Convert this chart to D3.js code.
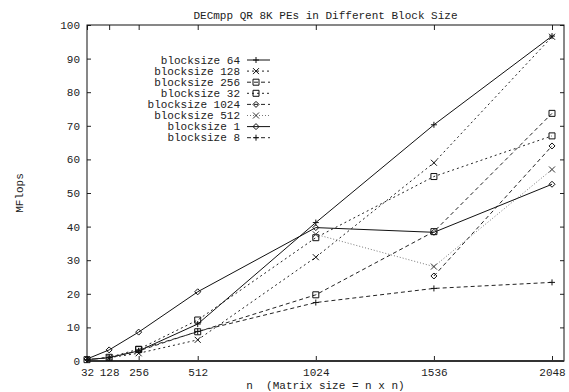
<!DOCTYPE html>
<html><head><meta charset="utf-8">
<script src="https://cdn.jsdelivr.net/npm/d3@7"></script>
<style>
body{margin:0;background:#fff}
svg{display:block}
text{font-family:"Liberation Mono","DejaVu Sans Mono",monospace;font-size:11px;fill:#222}
</style>
</head><body>
<svg id="chart" width="569" height="392"></svg>
<script>
// Matrix sizes n (x positions) and axis ticks
const sizesN = [32, 128, 256, 512, 1024, 1536, 2048];
const xTicks = [32, 128, 256, 512, 1024, 1536, 2048];
const yTicks = d3.range(0, 101, 10);

// MFlops per block size, aligned with sizesN (null = not measured)
const bs64   = [0.4, 1.0, 3.0, 11.0, 41.2, 70.3, 96.7];
const bs128  = [null, 1.0, 2.3, 6.3, 30.9, 59.0, 96.5];
const bs256  = [null, null, 3.4, 8.7, 19.7, 38.5, 73.7];
const bs32   = [0.4, 1.1, 3.5, 12.2, 36.7, 54.9, 67.0];
const bs1024 = [null, null, null, null, null, 25.3, 64.0];
const bs512  = [null, null, null, null, 37.7, 28.1, 57.0];
const bs1    = [0.6, 3.3, 8.6, 20.6, 39.7, 38.3, 52.6];
const bs8    = [0.4, 1.0, 3.0, 8.8, 17.4, 21.6, 23.4];

const seriesNames = ["blocksize 64", "blocksize 128", "blocksize 256", "blocksize 32",
                     "blocksize 1024", "blocksize 512", "blocksize 1", "blocksize 8"];
const seriesValues = [bs64, bs128, bs256, bs32, bs1024, bs512, bs1, bs8];

// line / marker style per series (legend order)
const styles = [
  {dash: null,  stroke: "#111", mark: "plus"},
  {dash: "2,3", stroke: "#222", mark: "cross"},
  {dash: "4,3", stroke: "#222", mark: "box"},
  {dash: "2,3", stroke: "#222", mark: "box"},
  {dash: "4,3", stroke: "#222", mark: "diamond"},
  {dash: "1,2", stroke: "#777", mark: "cross"},
  {dash: null,  stroke: "#111", mark: "diamond"},
  {dash: "4,3", stroke: "#222", mark: "plus"}
];

const W = 569, H = 392;
const plot = {left: 87, right: 564, top: 25, bottom: 361};

const svg = d3.select("#chart");
const x = d3.scaleLinear().domain([32, 2100]).range([plot.left, plot.right]);
const y = d3.scaleLinear().domain([0, 100]).range([plot.bottom, plot.top]);

// axes: ticks point inward, mirrored on the top and right
svg.append("g").attr("transform", `translate(0,${plot.bottom})`)
  .call(d3.axisBottom(x).tickValues(xTicks).tickSize(-5).tickPadding(7).tickFormat(d3.format("d")))
  .call(g => g.select(".domain").remove())
  .call(g => g.selectAll("line").attr("stroke", "#222"));
svg.append("g").attr("transform", `translate(0,${plot.top})`)
  .call(d3.axisTop(x).tickValues(xTicks).tickSize(-5).tickFormat(""))
  .call(g => g.select(".domain").remove())
  .call(g => g.selectAll("line").attr("stroke", "#222"));
svg.append("g").attr("transform", `translate(${plot.left},0)`)
  .call(d3.axisLeft(y).tickValues(yTicks).tickSize(-4).tickPadding(7))
  .call(g => g.select(".domain").remove())
  .call(g => g.selectAll("line").attr("stroke", "#222"));
svg.append("g").attr("transform", `translate(${plot.right},0)`)
  .call(d3.axisRight(y).tickValues(yTicks).tickSize(-4).tickFormat(""))
  .call(g => g.select(".domain").remove())
  .call(g => g.selectAll("line").attr("stroke", "#222"));

svg.selectAll(".tick text").style("font-family", '"Liberation Mono",monospace').style("font-size", "11px").attr("fill", "#222");

// frame
svg.append("rect")
  .attr("x", plot.left).attr("y", plot.top)
  .attr("width", plot.right - plot.left).attr("height", plot.bottom - plot.top)
  .attr("fill", "none").attr("stroke", "#111").attr("stroke-width", 1);
svg.append("line")
  .attr("x1", plot.left).attr("x2", plot.right)
  .attr("y1", plot.bottom).attr("y2", plot.bottom)
  .attr("stroke", "#333").attr("stroke-width", 2);

// titles
svg.append("text").attr("x", (plot.left + plot.right) / 2).attr("y", 19)
  .attr("text-anchor", "middle").text("DECmpp QR 8K PEs in Different Block Size");
svg.append("text").attr("x", (plot.left + plot.right) / 2).attr("y", 389)
  .attr("text-anchor", "middle").attr("xml:space", "preserve").style("white-space", "pre")
  .text("n  (Matrix size = n x n)");
svg.append("text").attr("transform", `translate(23,${(plot.top + plot.bottom) / 2}) rotate(-90)`)
  .attr("text-anchor", "middle").text("MFlops");

// point markers
function marker(g, type, cx, cy, color) {
  const r = 3;
  const p = g.append("path").attr("fill", "none").attr("stroke", color).attr("stroke-width", 1);
  if (type === "plus") p.attr("d", `M${cx - r},${cy}H${cx + r}M${cx},${cy - r}V${cy + r}`);
  else if (type === "cross") p.attr("d", `M${cx - r},${cy - r}L${cx + r},${cy + r}M${cx - r},${cy + r}L${cx + r},${cy - r}`);
  else if (type === "box") p.attr("d", `M${cx - r},${cy - r}H${cx + r}V${cy + r}H${cx - r}Z`);
  else if (type === "diamond") p.attr("d", `M${cx},${cy - r}L${cx + r},${cy}L${cx},${cy + r}L${cx - r},${cy}Z`);
}

const line = d3.line()
  .defined(d => d.v !== null)
  .x(d => x(d.n)).y(d => y(d.v));

const plotG = svg.append("g");
seriesValues.forEach((vals, i) => {
  const st = styles[i];
  const pts = vals.map((v, j) => ({n: sizesN[j], v}));
  plotG.append("path").datum(pts)
    .attr("d", line).attr("fill", "none")
    .attr("stroke", st.stroke).attr("stroke-width", 1)
    .attr("stroke-dasharray", st.dash);
  pts.filter(d => d.v !== null).forEach(d => marker(plotG, st.mark, x(d.n), y(d.v), st.stroke === "#777" ? "#333" : "#111"));
});

// legend
const legG = svg.append("g");
seriesNames.forEach((name, i) => {
  const st = styles[i];
  const ly = 60 + i * 11.1;
  legG.append("text").attr("x", 240).attr("y", ly + 3.5).attr("text-anchor", "end").text(name);
  legG.append("line").attr("x1", 247).attr("x2", 270).attr("y1", ly).attr("y2", ly)
    .attr("stroke", st.stroke).attr("stroke-width", 1).attr("stroke-dasharray", st.dash);
  marker(legG, st.mark, 256, ly, st.stroke === "#777" ? "#333" : "#111");
});
</script>
</body></html>
